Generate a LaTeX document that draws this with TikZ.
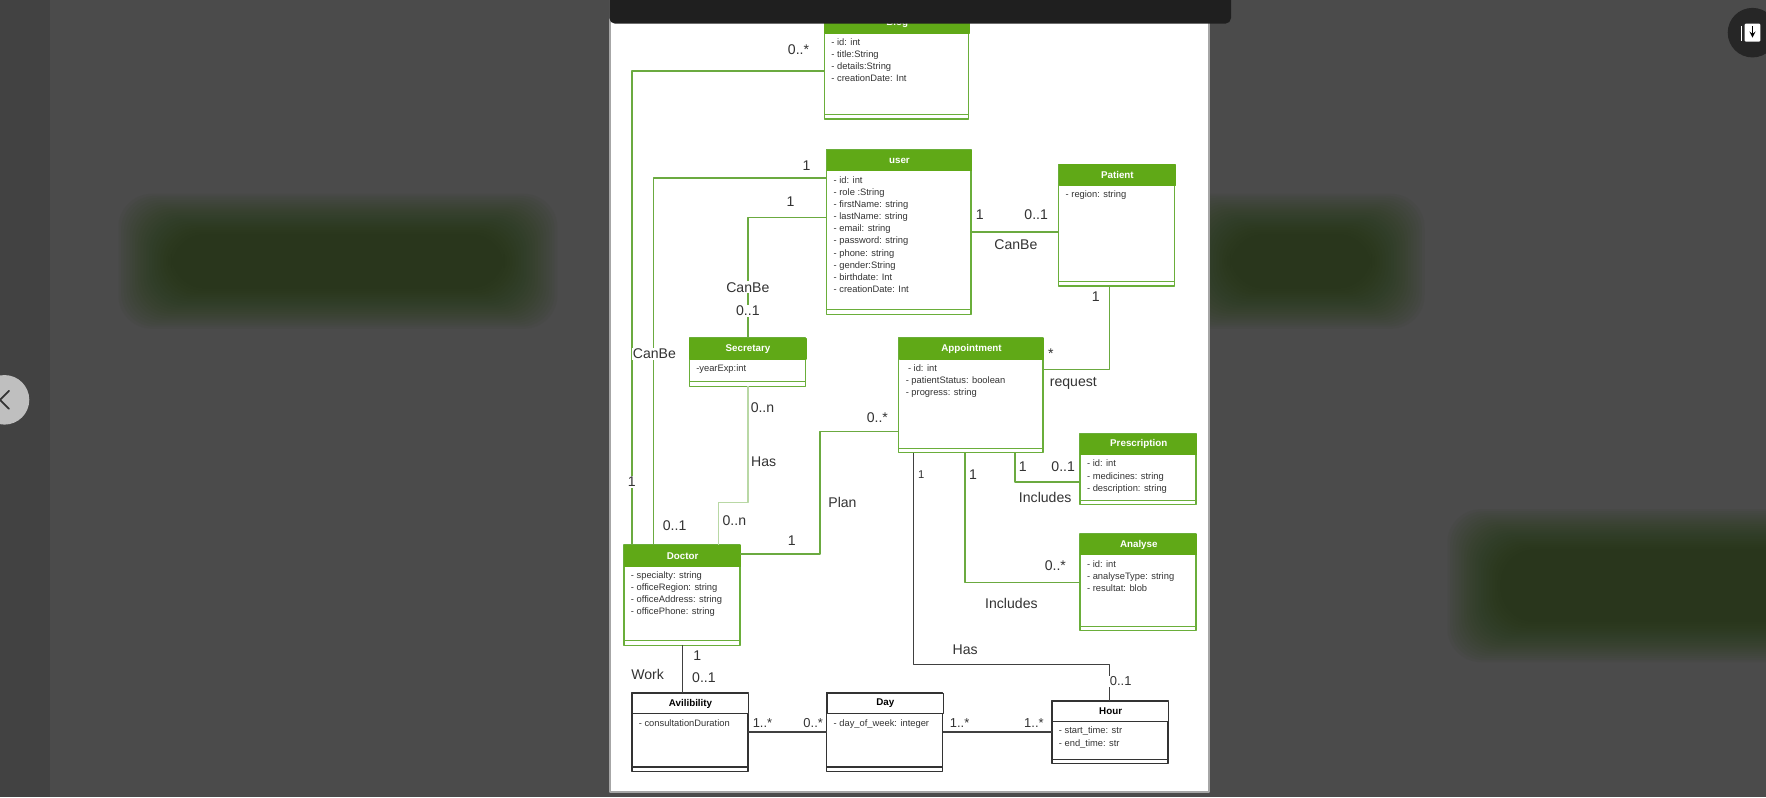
\documentclass[tikz,border=0pt]{standalone}
\usepackage{fontspec}
\setmainfont{Liberation Sans}
\definecolor{umlgreen}{HTML}{60A917}
\definecolor{umledge}{HTML}{6AAE3A}
\definecolor{linkgreen}{HTML}{6BAA40}
\definecolor{lightlink}{HTML}{B9D8A5}
\definecolor{backdrop}{HTML}{4B4B4B}
\definecolor{blob}{HTML}{1F360C}
\definecolor{inktext}{HTML}{333333}
\tikzset{
  gcls/.style={draw=umledge, line width=1.2pt, fill=white, inner sep=0pt, outer sep=0pt},
  gcls head/.style={fill=umlgreen, draw=umlgreen, line width=1.2pt, text=white, inner sep=0pt, minimum height=18pt, font=\fontsize{8.7}{10}\selectfont\bfseries},
  gcls line/.style={draw=umledge, line width=1pt},
  bcls/.style={draw=black!80, line width=1.2pt, fill=white, inner sep=0pt, outer sep=0pt},
  bcls head/.style={fill=white, draw=black!80, line width=1.2pt, text=black, inner sep=0pt, minimum height=18pt, font=\fontsize{8.7}{10}\selectfont\bfseries},
  bcls line/.style={draw=black!80, line width=1pt},
  attr/.style={inner sep=0pt, align=left, text=inktext, font=\fontsize{8.3}{10.8}\selectfont},
  glink/.style={draw=linkgreen, line width=1.3pt},
  glight/.style={draw=lightlink, line width=1.3pt},
  blink/.style={draw=black!75, line width=1.3pt},
  role/.style={inner sep=1pt, text=inktext, font=\fontsize{12.5}{14}\selectfont},
  smallrole/.style={inner sep=1pt, text=inktext, font=\fontsize{11.5}{13}\selectfont}
}
% class box: [style]{name}{x}{y}{width}{height}{title}{attributes}
\newcommand{\classbox}[8][gcls]{%
  \node[#1, minimum width=#5, minimum height=#6, anchor=north west] (#2) at (#3,#4) {};
  \node[#1 head, minimum width=#5, anchor=north west] (#2-head) at (#2.north west) {#7};
  \node[attr, anchor=north west] (#2-attr) at ([xshift=6pt, yshift=-4.2pt]#2-head.south west) {#8};
  \draw[#1 line] ([yshift=4pt]#2.south west) -- ([yshift=4pt]#2.south east);
}
\begin{document}
\begin{tikzpicture}[x=1pt, y=-1pt, line join=round]
\useasboundingbox (0,0) rectangle (1568,708);
% viewer backdrop
\fill[backdrop] (0,0) rectangle (1568,708);
\fill[backdrop!88!black] (0,0) rectangle (44,708);
\foreach \a/\b/\c/\d in {105/172/495/292, 1045/172/1265/292, 1285/452/1640/588}
  \foreach \i in {0,...,19}
    \fill[blob, opacity=.05, rounded corners=30] (\a+2.5*\i,\b+1.9*\i) rectangle (\c-2.5*\i,\d-1.9*\i);
\fill[black!25] (4,355) circle (22);
\draw[inktext, line width=1.6pt, line cap=round] (8,347) -- (0,355) -- (8,363);
\fill[black!85] (1556,29) circle (22);
\fill[white, rounded corners=1] (1549,21) rectangle (1563,37);
\draw[white, line width=.8pt] (1546,23) -- (1546,36);
\draw[->, >=stealth, black, line width=1.4pt] (1556,23.5) -- (1556,33.5);
% page
\filldraw[fill=white, draw=black!35, line width=1.5pt] (541.6,-2) rectangle (1073.4,703.2);

% classes
\classbox{blog}{732}{10.7}{128}{95}{Blog}{- id: int\\- title:String\\- details:String\\- creationDate: Int}
\classbox{user}{734}{133}{128}{146}{user}{- id: int\\- role :String\\- firstName: string\\- lastName: string\\- email: string\\- password: string\\- phone: string\\- gender:String\\- birthdate: Int\\- creationDate: Int}
\classbox{patient}{940}{146}{103}{108}{Patient}{- region: string}
\classbox{secretary}{612}{300}{103}{43}{Secretary}{-yearExp:int}
\classbox{appointment}{798}{300}{128}{102}{Appointment}{\hspace{2pt}- id: int\\- patientStatus: boolean\\- progress: string}
\classbox{prescription}{959}{385}{103}{63}{Prescription}{- id: int\\- medicines: string\\- description: string}
\classbox{analyse}{959}{474}{103}{86}{Analyse}{- id: int\\- analyseType: string\\- resultat: blob}
\classbox{doctor}{554}{484}{103}{89}{Doctor}{- specialty: string\\- officeRegion: string\\- officeAddress: string\\- officePhone: string}
\classbox[bcls]{avilibility}{561}{615}{103}{70}{Avilibility}{- consultationDuration}
\classbox[bcls]{day}{734}{615}{103}{70}{Day}{- day\_of\_week: integer}
\classbox[bcls]{hour}{934}{622}{103}{56}{Hour}{- start\_time: str\\- end\_time: str}

% connectors
\draw[glink] (blog.west |- 0,63) -| (doctor.north -| 561,0);
\draw[glink] (user.west |- 0,158) -| (doctor.north -| 580,0);
\draw[glink] (user.west |- 0,193) -| (secretary.north -| 664,0);
\draw[glink] (user.east |- 0,206) -- (patient.west |- 0,206);
\draw[glink] (patient.south -| 985,0) |- (appointment.east |- 0,328);
\draw[glight] (secretary.south -| 664,0) -- (664,446) -| (doctor.north -| 638,0);
\draw[glink] (doctor.east |- 0,492) -| (728,383) -- (appointment.west |- 0,383);
\draw[glink] (appointment.south -| 901,0) |- (prescription.west |- 0,428);
\draw[glink] (appointment.south -| 857,0) |- (analyse.west |- 0,517);
\draw[blink] (appointment.south -| 811,0) |- (985,590) -- (hour.north -| 985,0);
\draw[blink] (doctor.south -| 606,0) -- (avilibility.north -| 606,0);
\draw[blink] (avilibility.east |- 0,650) -- (day.west |- 0,650);
\draw[blink] (day.east |- 0,650) -- (hour.west |- 0,650);

% roles and multiplicities
\foreach \x/\y/\t [count=\i] in {709/44/{0..*}, 716/147/1, 702/179/1, 870/191/1, 920/191/{0..1},
    902/217/CanBe, 973/263/1, 933/314/*, 953/340/request, 677/362/{0..n}, 678/410/Has,
    652/462/{0..n}, 599/467/{0..1}, 703/480/1, 779/371/{0..*}, 748/446/Plan, 864/421/1,
    908/414/1, 944/414/{0..1}, 928/442/Includes, 937/502/{0..*}, 898/536/Includes,
    857/577/Has, 619/582/1, 625/602/{0..1}, 575/599/Work}
  \node[role] (r\i) at (\x,\y) {\t};
\foreach \x/\y/\t [count=\i] in {664/255/CanBe, 664/276/{0..1}, 581/314/CanBe, 561/428/1}
  \node[role, fill=white] (w\i) at (\x,\y) {\t};
\node[smallrole, fill=white] (s0) at (995,605) {0..1};
\node[smallrole, font=\fontsize{10}{12}\selectfont] (s1) at (818,421) {1};
\foreach \x/\y/\t [count=\i from 2] in {677/642/{1..*}, 722/642/{0..*}, 852/642/{1..*}, 918/642/{1..*}}
  \node[smallrole] (s\i) at (\x,\y) {\t};

% viewer bar on top
\fill[black!88, rounded corners=5] (541,-10) rectangle (1093,21);
\end{tikzpicture}
\end{document}
